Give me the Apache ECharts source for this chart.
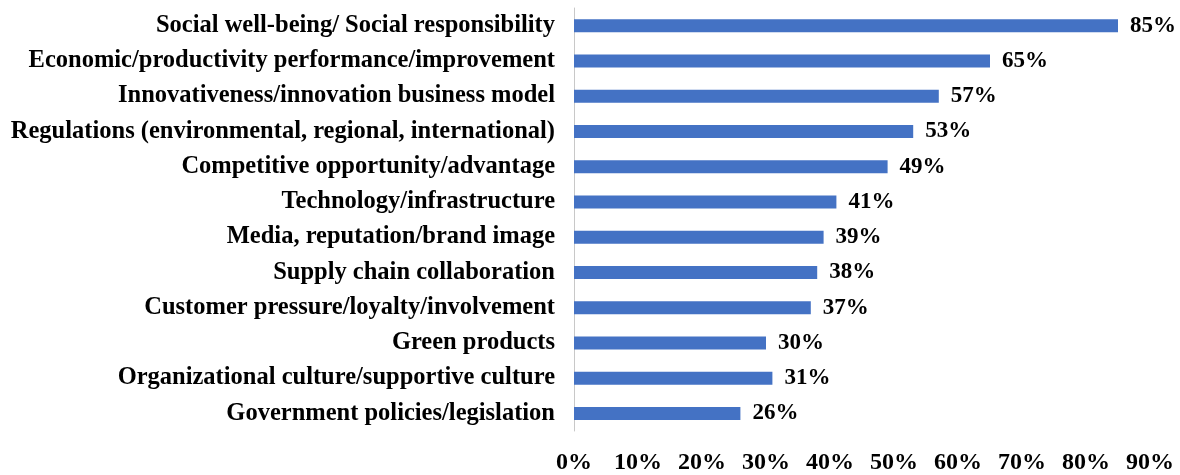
<!DOCTYPE html>
<html>
<head>
<meta charset="utf-8">
<script src="https://cdn.jsdelivr.net/npm/echarts@6/dist/echarts.min.js"></script>
<style>
  html, body { margin: 0; padding: 0; background: #fff; }
  #chart { width: 1180px; height: 475px; }
</style>
</head>
<body>
<div id="chart"></div>
<script>
// categories top to bottom
var categories = [
  'Social well-being/ Social responsibility',
  'Economic/productivity performance/improvement',
  'Innovativeness/innovation business model',
  'Regulations (environmental, regional, international)',
  'Competitive opportunity/advantage',
  'Technology/infrastructure',
  'Media, reputation/brand image',
  'Supply chain collaboration',
  'Customer pressure/loyalty/involvement',
  'Green products',
  'Organizational culture/supportive culture',
  'Government policies/legislation'
];
var values = [85, 65, 57, 53, 49, 41, 39, 38, 37, 30, 31, 26];

var myChart = echarts.init(document.getElementById('chart'));

var option = {
  animation: false,
  grid: {
    left: 574,
    right: 30,
    top: 8,
    bottom: 38,
    containLabel: false
  },
  xAxis: {
    type: 'value',
    min: 0,
    max: 90,
    interval: 10,
    axisLine: { show: false },
    axisTick: { show: false },
    splitLine: { show: false },
    axisLabel: {
      formatter: '{value}%',
      margin: 20,
      fontFamily: 'Liberation Serif',
      fontWeight: 'bold',
      fontSize: 24,
      color: '#000'
    }
  },
  yAxis: {
    type: 'category',
    inverse: true,
    data: categories,
    axisLine: { show: true, lineStyle: { color: '#c8c8c8', width: 1 } },
    axisTick: { show: false },
    axisLabel: {
      margin: 19,
      fontFamily: 'Liberation Serif',
      fontWeight: 'bold',
      fontSize: 24.5,
      color: '#000'
    }
  },
  series: [
    {
      type: 'bar',
      data: values,
      barWidth: 13,
      itemStyle: { color: '#4472C4' },
      label: {
        show: true,
        position: 'right',
        distance: 12,
        formatter: '{c}%',
        fontFamily: 'Liberation Serif',
        fontWeight: 'bold',
        fontSize: 23,
        color: '#000'
      }
    }
  ]
};

myChart.setOption(option);
</script>
</body>
</html>
